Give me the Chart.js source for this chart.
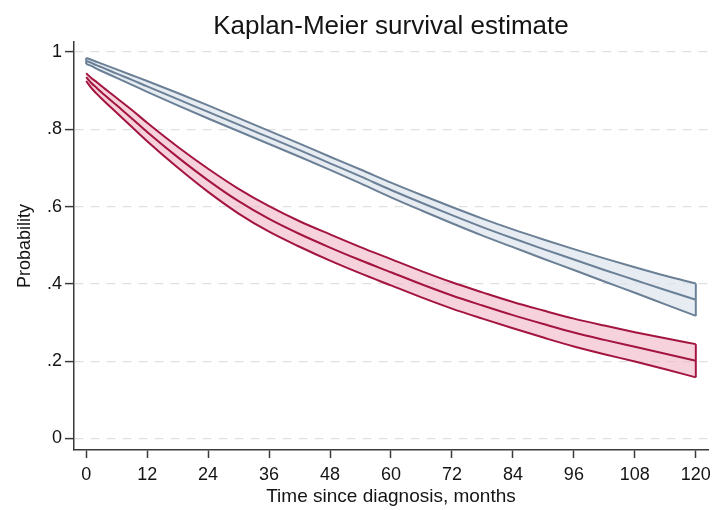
<!DOCTYPE html>
<html>
<head>
<meta charset="utf-8">
<script src="https://cdn.jsdelivr.net/npm/chart.js@4"></script>
<style>
  html, body { margin: 0; padding: 0; background: #fff; }
  #wrap { width: 712px; height: 510px; }
</style>
</head>
<body>
<div id="wrap"><canvas id="km"></canvas></div>
<script>
// months since diagnosis where the curves were read
const months = [0, 1, 2, 3, 6, 9, 12, 18, 24, 30, 36, 42, 48, 54, 60, 66, 72, 78, 84, 90, 96, 102, 108, 114, 120];

// upper group (blue-grey)
const blueMid   = [0.977, 0.972, 0.966, 0.961, 0.944, 0.928, 0.911, 0.878, 0.845, 0.812, 0.779, 0.746, 0.712, 0.678, 0.643, 0.610, 0.578, 0.547, 0.518, 0.490, 0.463, 0.436, 0.410, 0.384, 0.359];
const blueUpper = [0.985, 0.980, 0.975, 0.970, 0.955, 0.940, 0.925, 0.894, 0.862, 0.829, 0.796, 0.763, 0.729, 0.696, 0.662, 0.630, 0.599, 0.569, 0.541, 0.515, 0.490, 0.466, 0.443, 0.421, 0.401];
const blueLower = [0.969, 0.964, 0.957, 0.951, 0.933, 0.915, 0.897, 0.862, 0.828, 0.795, 0.762, 0.729, 0.695, 0.660, 0.624, 0.590, 0.557, 0.525, 0.495, 0.465, 0.436, 0.406, 0.377, 0.347, 0.317];

// lower group (red)
const redMid   = [0.935, 0.920, 0.908, 0.896, 0.862, 0.828, 0.793, 0.728, 0.668, 0.614, 0.568, 0.529, 0.494, 0.461, 0.430, 0.399, 0.370, 0.344, 0.319, 0.296, 0.274, 0.255, 0.237, 0.219, 0.201];
const redUpper = [0.945, 0.933, 0.923, 0.912, 0.881, 0.850, 0.817, 0.755, 0.698, 0.646, 0.601, 0.562, 0.528, 0.495, 0.464, 0.433, 0.404, 0.378, 0.353, 0.331, 0.310, 0.292, 0.275, 0.259, 0.244];
const redLower = [0.925, 0.907, 0.893, 0.880, 0.843, 0.806, 0.769, 0.701, 0.638, 0.582, 0.535, 0.496, 0.460, 0.427, 0.396, 0.365, 0.336, 0.310, 0.285, 0.261, 0.238, 0.218, 0.199, 0.179, 0.158];

const xTicks = [0, 12, 24, 36, 48, 60, 72, 84, 96, 108, 120];
const yTicks = [0, 0.2, 0.4, 0.6, 0.8, 1];
const yTickLabels = ["0", ".2", ".4", ".6", ".8", "1"];

const TITLE = "Kaplan-Meier survival estimate";
const FONT = "'Liberation Sans', Arial, Helvetica, sans-serif";
const TEXT = "#141414";
const AXIS = "#3a3a3a";
const BLUE = "#6b8096";
const BLUE_FILL = "rgba(222, 230, 238, 0.75)";
const RED = "#a3153f";
const RED_FILL = "rgba(240, 180, 198, 0.6)";

function pts(vals) {
  return months.map((m, i) => ({x: m, y: vals[i]}));
}

function line(vals, color, fill, bg) {
  return {
    data: pts(vals),
    borderColor: color,
    backgroundColor: bg || "transparent",
    borderWidth: 2,
    pointRadius: 0,
    cubicInterpolationMode: "monotone",
    fill: fill
  };
}

// vertical edge closing a confidence band
function cap(i, lo, hi, color) {
  return {
    data: [{x: months[i], y: lo[i]}, {x: months[i], y: hi[i]}],
    borderColor: color,
    borderWidth: 2,
    pointRadius: 0,
    fill: false
  };
}

// title centred over the plot region (Stata style), not the whole canvas
const plotTitle = {
  id: "plotTitle",
  afterDraw(chart) {
    const {ctx, chartArea} = chart;
    ctx.save();
    ctx.font = "26px " + FONT;
    ctx.fillStyle = TEXT;
    ctx.textAlign = "center";
    ctx.textBaseline = "alphabetic";
    ctx.fillText(TITLE, (chartArea.left + chartArea.right) / 2, 34);
    ctx.restore();
  }
};

const last = months.length - 1;

new Chart(document.getElementById("km"), {
  type: "line",
  data: {
    datasets: [
      line(blueUpper, BLUE, "+2", BLUE_FILL),
      line(blueMid, BLUE, false),
      line(blueLower, BLUE, false),
      line(redUpper, RED, "+2", RED_FILL),
      line(redMid, RED, false),
      line(redLower, RED, false),
      cap(0, blueLower, blueUpper, BLUE),
      cap(last, blueLower, blueUpper, BLUE),
      cap(last, redLower, redUpper, RED)
    ]
  },
  plugins: [plotTitle],
  options: {
    responsive: true,
    maintainAspectRatio: false,
    animation: false,
    layout: {padding: {top: 42, left: 0, right: 4, bottom: 0}},
    plugins: {
      legend: {display: false},
      tooltip: {enabled: false},
      filler: {drawTime: "beforeDatasetsDraw"},
      title: {display: false}
    },
    scales: {
      x: {
        type: "linear",
        min: -2.4,
        max: 122.4,
        afterBuildTicks: s => { s.ticks = xTicks.map(v => ({value: v})); },
        afterFit: s => { s.height = 60; s.paddingLeft = 0; s.paddingRight = 0; },
        ticks: {color: TEXT, font: {family: FONT, size: 18}, padding: 6, maxRotation: 0, autoSkip: false},
        grid: {drawOnChartArea: false, drawTicks: true, tickLength: 8, tickColor: AXIS, tickWidth: 1.5},
        border: {color: AXIS, width: 1.5},
        title: {display: true, text: "Time since diagnosis, months", color: TEXT,
                font: {family: FONT, size: 19}, padding: {top: 0, bottom: 2}}
      },
      y: {
        min: -0.03,
        max: 1.026,
        afterBuildTicks: s => { s.ticks = yTicks.map(v => ({value: v})); },
        afterFit: s => { s.width = 74; s.paddingTop = 0; s.paddingBottom = 0; },
        ticks: {color: TEXT, font: {family: FONT, size: 18}, padding: 3,
                callback: (v, i) => yTickLabels[i]},
        grid: {color: "#e0e0e0", lineWidth: 1.2, tickColor: AXIS, tickLength: 9, tickWidth: 1.5},
        border: {color: AXIS, width: 1.5, dash: [9, 7]},
        title: {display: true, text: "Probability", color: TEXT,
                font: {family: FONT, size: 18}, padding: {top: 14, bottom: 0}}
      }
    }
  }
});
</script>
</body>
</html>
